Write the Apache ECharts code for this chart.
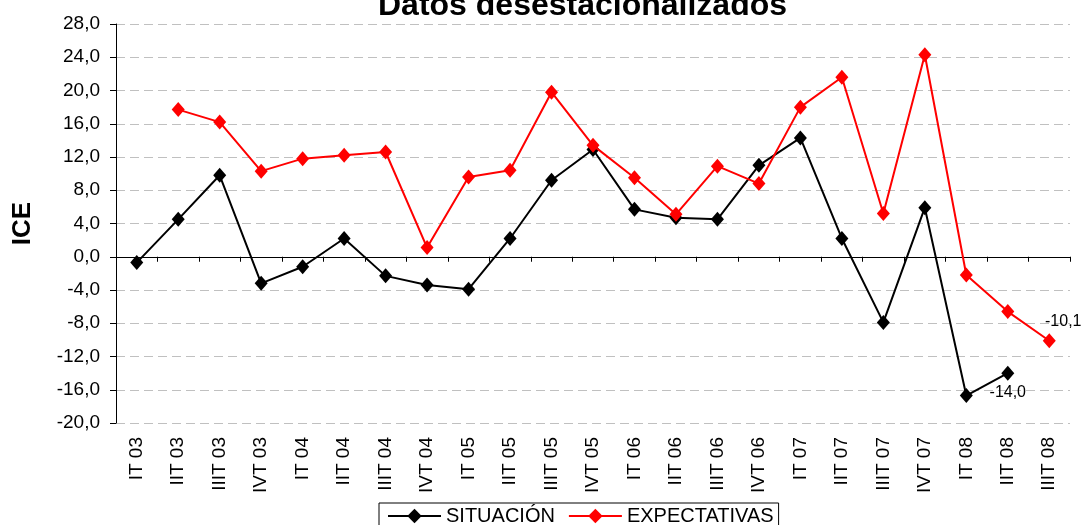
<!DOCTYPE html>
<html>
<head>
<meta charset="utf-8">
<script src="https://cdn.jsdelivr.net/npm/echarts@6/dist/echarts.min.js"></script>
<style>
html,body{margin:0;padding:0;background:#fff;}
#chart{width:1084px;height:525px;}
</style>
</head>
<body>
<div id="chart"></div>
<script>
const categories = ['IT 03','IIT 03','IIIT 03','IVT 03','IT 04','IIT 04','IIIT 04','IVT 04','IT 05','IIT 05','IIIT 05','IVT 05','IT 06','IIT 06','IIIT 06','IVT 06','IT 07','IIT 07','IIIT 07','IVT 07','IT 08','IIT 08','IIIT 08'];
const situacion = [-0.7,4.5,9.8,-3.2,-1.2,2.2,-2.3,-3.4,-3.9,2.2,9.2,12.9,5.7,4.7,4.5,11.0,14.3,2.2,-7.9,5.9,-16.7,-14.0,null];
const expectativas = [null,17.7,16.2,10.3,11.8,12.2,12.6,1.1,9.6,10.4,19.8,13.4,9.5,5.1,10.9,8.8,18.0,21.6,5.2,24.3,-2.2,-6.6,-10.1];
const yMin = -20, yMax = 28, yStep = 4;
const titleText = 'Datos desestacionalizados';
const yName = 'ICE';
const seriesNames = ['SITUACIÓN', 'EXPECTATIVAS'];

const FONT = '"Liberation Sans", Arial, sans-serif';
const fmt = v => v.toFixed(1).replace('.', ',');

function lastIndex(arr) {
  for (let i = arr.length - 1; i >= 0; i--) if (arr[i] !== null) return i;
  return -1;
}
function buildData(arr, labelCfg) {
  const li = lastIndex(arr);
  return arr.map((v, i) => {
    if (v === null) return null;
    if (i === li) return { value: v, label: Object.assign({ show: true, formatter: p => fmt(p.value), fontFamily: FONT, fontSize: 16, color: '#000' }, labelCfg) };
    return v;
  });
}

const chart = echarts.init(document.getElementById('chart'));
chart.setOption({
  animation: false,
  backgroundColor: '#fff',
  title: {
    text: titleText,
    left: 378,
    top: -10,
    padding: 0,
    textStyle: { fontFamily: FONT, fontSize: 32, fontWeight: 'bold', color: '#000' }
  },
  grid: { left: 116, right: 14, top: 24, bottom: 102 },
  legend: {
    left: 379,
    top: 503,
    padding: [3, 5, 3, 8],
    itemGap: 13,
    itemWidth: 53,
    itemHeight: 18,
    borderColor: '#000',
    borderWidth: 1,
    borderRadius: 0,
    textStyle: { fontFamily: FONT, fontSize: 20, color: '#000' },
    data: seriesNames
  },
  xAxis: [
    {
      type: 'category',
      data: categories,
      position: 'bottom',
      boundaryGap: true,
      axisLine: { show: false, onZero: false },
      axisTick: { show: false },
      splitLine: { show: false },
      axisLabel: { rotate: 90, margin: 14, fontFamily: FONT, fontSize: 19, color: '#000', interval: 0 }
    },
    {
      type: 'category',
      data: categories,
      position: 'top',
      boundaryGap: true,
      axisLine: { show: true, onZero: true, lineStyle: { color: '#000', width: 1 } },
      axisTick: { show: true, inside: true, length: 5, interval: 0, lineStyle: { color: '#000' } },
      axisLabel: { show: false },
      splitLine: { show: false }
    }
  ],
  yAxis: {
    type: 'value',
    min: yMin,
    max: yMax,
    interval: yStep,
    name: yName,
    nameLocation: 'middle',
    nameRotate: 90,
    nameGap: 80,
    nameTextStyle: { fontFamily: FONT, fontSize: 26, fontWeight: 'bold', color: '#000' },
    axisLine: { show: true, lineStyle: { color: '#000', width: 1 } },
    axisTick: { show: true, length: 6, lineStyle: { color: '#000' } },
    axisLabel: { margin: 16, fontFamily: FONT, fontSize: 19, color: '#000', formatter: fmt },
    splitLine: { show: true, lineStyle: { color: '#c0c0c0', width: 1, type: [9, 5] } }
  },
  series: [
    {
      name: seriesNames[0],
      type: 'line',
      xAxisIndex: 0,
      data: buildData(situacion, { position: 'bottom', distance: 4 }),
      symbol: 'diamond',
      symbolSize: [13, 15],
      lineStyle: { color: '#000', width: 2 },
      itemStyle: { color: '#000' },
      z: 3
    },
    {
      name: seriesNames[1],
      type: 'line',
      xAxisIndex: 0,
      data: buildData(expectativas, { position: 'top', distance: 4, offset: [14, 0] }),
      symbol: 'diamond',
      symbolSize: [13, 15],
      lineStyle: { color: '#ff0000', width: 2 },
      itemStyle: { color: '#ff0000' },
      z: 4
    }
  ]
});
</script>
</body>
</html>
